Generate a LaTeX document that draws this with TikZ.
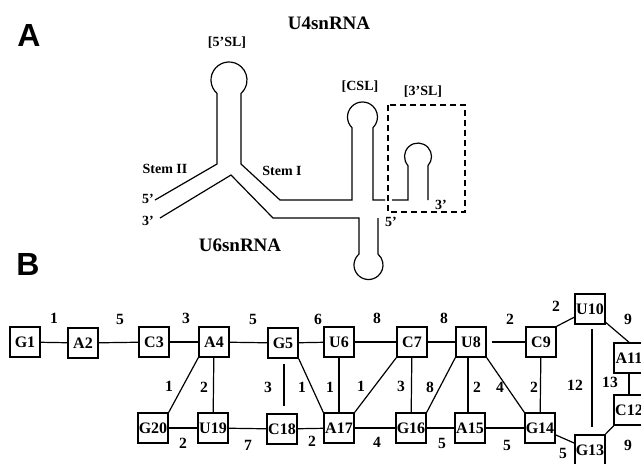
\documentclass[tikz,border=0pt]{standalone}
\usepackage{fontspec}
\setmainfont{Liberation Serif}
\newfontfamily\panelfont{Liberation Sans}
\usepackage{tikz}
\usetikzlibrary{positioning}
\tikzset{
  rna/.style={line width=0.6pt},
  base/.style={draw, minimum size=15pt, inner sep=0pt, line width=0.75pt, font=\bfseries\fontsize{8}{9}\selectfont},
  link/.style={line width=0.6pt},
  wt/.style={inner sep=0pt, font=\bfseries\fontsize{7.8}{8}\selectfont},
  tag/.style={inner sep=0pt, font=\bfseries\fontsize{7}{8}\selectfont},
  panel/.style={inner sep=0pt, font=\panelfont\bfseries\fontsize{16}{17}\selectfont}
}
\begin{document}
\begin{tikzpicture}[x=0.5pt, y=-0.5pt]
\useasboundingbox (0,0) rectangle (641,463);
\clip (0,0) rectangle (641,463);

% Panel A
\node[panel] (pA) at (29,35) {A};
\node[inner sep=0pt, font=\bfseries\fontsize{9.5}{10}\selectfont] (u4) at (329,23) {U4snRNA};
\node[inner sep=0pt, font=\bfseries\fontsize{9.5}{10}\selectfont] (u6) at (240,245) {U6snRNA};
\node[tag] (sl5) at (227,43) {[5'SL]};
\node[tag] (csl) at (360,87) {[CSL]};
\node[tag] (sl3) at (423,92) {[3'SL]};
\node[tag] (stem2) at (165,169) {Stem II};
\node[tag] (stem1) at (282,171) {Stem I};
\node[tag] (u4end5) at (148,199) {5'};
\node[tag] (u6end3) at (148,221) {3'};
\node[tag] (u4end3) at (441,205) {3'};
\node[tag] (u6end5) at (391,222) {5'};

% U4 strand
\draw[rna] (155,200) -- (217,164) -- (217,93.4) arc[start angle=131.8, end angle=408.2, radius=18]
  -- (241,164) -- (280,200) -- (352,200) -- (352,127.7) arc[start angle=134.4, end angle=405.6, radius=15]
  -- (373,200) -- (385,200);
\draw[rna] (392,200) -- (408,200) -- (408,165.6) arc[start angle=137.8, end angle=402.2, radius=13.5] -- (428,200);
\draw[rna, dash pattern=on 3pt off 2pt] (388,105) rectangle (465,212);

% U6 strand
\draw[rna] (160,218) -- (231,175) -- (273,218) -- (359,218) -- (359,254.05)
  arc[start angle=229.05, end angle=-49.05, radius=14.5] -- (378,218);

% Panel B
\node[panel] (pB) at (28,264) {B};

% top row
\node[base] (g1) at (25,342) {G1};
\node[base] (a2) at (83,343) {A2};
\node[base] (c3) at (154,342) {C3};
\node[base] (a4) at (214,342) {A4};
\node[base] (g5) at (283,343) {G5};
\node[base] (u6n) at (339,342) {U6};
\node[base] (c7) at (412,342) {C7};
\node[base] (u8) at (471,342) {U8};
\node[base] (c9) at (541,342) {C9};
\node[base] (u10) at (590,309) {U10};
\node[base] (a11) at (629,358) {A11};
\node[base] (c12) at (629,410) {C12};
\node[base] (g13) at (590,450) {G13};
% bottom row
\node[base] (g20) at (153,428) {G20};
\node[base] (u19) at (213,428) {U19};
\node[base] (c18) at (282,429) {C18};
\node[base] (a17) at (339,428) {A17};
\node[base] (g16) at (411,428) {G16};
\node[base] (a15) at (470,428) {A15};
\node[base] (g14) at (540,428) {G14};

% links
\draw[link] (g1) -- (a2);
\draw[link] (a2) -- (c3);
\draw[link] (c3) -- (a4);
\draw[link] (a4) -- (g5);
\draw[link] (g5) -- (u6n);
\draw[link] (u6n) -- (c7);
\draw[link] (c7) -- (u8);
\draw[link, shorten <=2.5pt] (u8) -- (c9);
\draw[link] (c9.north east) -- (u10);
\draw[link] (u10) -- (a11.north);
\draw[link] (a11) -- (c12);
\draw[link] (c12) -- (g13);
\draw[link] (g14) -- (g13);
\draw[link, shorten <=2pt, shorten >=3.5pt] (u10.south) ++(2,0) coordinate (u10s) -- (u10s |- g13.north);
\draw[link] (c9) -- (g14);
\draw[link] (u8.south east) -- (g14.north west);
\draw[link] (u8.south) ++(-3,0) coordinate (u8s) -- (u8s |- a15.north);
\draw[link] (u8.south west) -- (g16.north east);
\draw[link] (c7) -- (g16);
\draw[link] (c7.south west) -- (a17.north east);
\draw[link] (u6n) -- (a17);
\draw[link] (g5.south east) -- (a17.north west);
\draw[link, shorten <=2.5pt, shorten >=3.5pt] (g5.south) ++(1,0) coordinate (g5s) -- (g5s |- c18.north);
\draw[link] (a4) -- (u19);
\draw[link] (a4.south west) -- (g20.north east);
\draw[link] (g20) -- (u19);
\draw[link] (u19) -- (c18);
\draw[link] (c18) -- (a17);
\draw[link] (a17) -- (g16);
\draw[link] (g16) -- (a15);
\draw[link] (a15) -- (g14);

% weights
\node[wt] (w1) at (54,318) {1};
\node[wt] (w2) at (120,319) {5};
\node[wt] (w3) at (186,318) {3};
\node[wt] (w4) at (253,319) {5};
\node[wt] (w5) at (318,319) {6};
\node[wt] (w6) at (377,318) {8};
\node[wt] (w7) at (444,318) {8};
\node[wt] (w8) at (510,319) {2};
\node[wt] (w9) at (556,306) {2};
\node[wt] (w10) at (628,319) {9};
\node[wt] (w11) at (610,382) {13};
\node[wt] (w12) at (628,445) {9};
\node[wt] (w13) at (563,453) {5};
\node[wt] (w14) at (575,385) {12};
\node[wt] (w15) at (534,387) {2};
\node[wt] (w16) at (500,387) {4};
\node[wt] (w17) at (477,387) {2};
\node[wt] (w18) at (430,387) {8};
\node[wt] (w19) at (401,386) {3};
\node[wt] (w20) at (361,386) {1};
\node[wt] (w21) at (330,387) {1};
\node[wt] (w22) at (302,387) {1};
\node[wt] (w23) at (268,387) {3};
\node[wt] (w24) at (204,387) {2};
\node[wt] (w25) at (169,386) {1};
\node[wt] (w26) at (183,443) {2};
\node[wt] (w27) at (248,445) {7};
\node[wt] (w28) at (312,441) {2};
\node[wt] (w29) at (377,442) {4};
\node[wt] (w30) at (442,443) {5};
\node[wt] (w31) at (507,445) {5};
\end{tikzpicture}
\end{document}
